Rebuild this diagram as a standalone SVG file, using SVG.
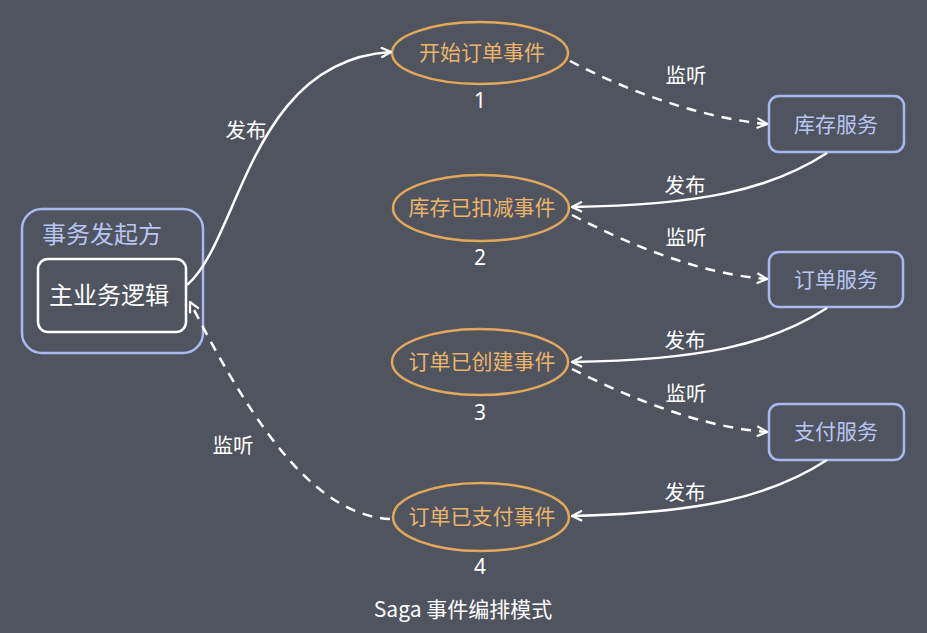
<svg xmlns="http://www.w3.org/2000/svg" width="927" height="633" viewBox="0 0 927 633">
<defs>
<style>
text{font-family:"Microsoft YaHei","Noto Sans CJK SC","Liberation Sans",sans-serif;}
.ev{fill:none;stroke:#e0a85a;stroke-width:2.5;}
.evt{fill:#eab46c;font-size:21px;text-anchor:middle;}
.num{fill:#ffffff;font-size:21px;text-anchor:middle;font-family:"Noto Sans","Liberation Sans",sans-serif;}
.svc{fill:none;stroke:#aab8ee;stroke-width:2.5;}
.svt{fill:#b9c5f2;font-size:21px;text-anchor:middle;}
.lbl{fill:#ffffff;font-size:20.5px;text-anchor:middle;}
.solid{fill:none;stroke:#ffffff;stroke-width:2.5;marker-end:url(#arr);}
.dash{fill:none;stroke:#ffffff;stroke-width:2.5;stroke-dasharray:10 8;marker-end:url(#arr);}
</style>
<marker id="arr" viewBox="0 0 12 12" refX="11" refY="6" markerWidth="12" markerHeight="12" markerUnits="userSpaceOnUse" orient="auto">
<path d="M1 1 L11 6 L1 11" fill="none" stroke="#ffffff" stroke-width="2.2"/>
</marker>
</defs>
<rect width="927" height="633" fill="#50545e"/>

<g id="initiator">
<rect x="22" y="209" width="181" height="144" rx="20" fill="none" stroke="#aab8ee" stroke-width="2.5"/>
<text x="102" y="243" fill="#b9c5f2" font-size="24" text-anchor="middle">事务发起方</text>
</g>
<g id="main-logic">
<rect x="38" y="259" width="148" height="73" rx="10" fill="none" stroke="#ffffff" stroke-width="2.5"/>
<text x="109" y="304" fill="#ffffff" font-size="24" text-anchor="middle">主业务逻辑</text>
</g>

<g id="event1">
<ellipse class="ev" cx="480" cy="53" rx="88" ry="31"/>
<text class="evt" x="482" y="60">开始订单事件</text>
<text class="num" x="480" y="108">1</text>
</g>
<g id="event2">
<ellipse class="ev" cx="481" cy="208" rx="88" ry="33"/>
<text class="evt" x="482" y="215">库存已扣减事件</text>
<text class="num" x="480" y="265">2</text>
</g>
<g id="event3">
<ellipse class="ev" cx="480" cy="362" rx="88" ry="33"/>
<text class="evt" x="482" y="369">订单已创建事件</text>
<text class="num" x="480" y="420">3</text>
</g>
<g id="event4">
<ellipse class="ev" cx="481" cy="517" rx="88" ry="34"/>
<text class="evt" x="482" y="524">订单已支付事件</text>
<text class="num" x="480" y="574">4</text>
</g>

<g id="inventory-service">
<rect class="svc" x="769" y="96" width="135" height="56" rx="10"/>
<text class="svt" x="836" y="132">库存服务</text>
</g>
<g id="order-service">
<rect class="svc" x="769" y="252" width="134" height="55" rx="10"/>
<text class="svt" x="836" y="287">订单服务</text>
</g>
<g id="payment-service">
<rect class="svc" x="769" y="404" width="135" height="56" rx="10"/>
<text class="svt" x="836" y="439">支付服务</text>
</g>

<g id="connectors">
<path class="solid" d="M187 285 C240 240 250 60 391 52"/>
<path class="dash" d="M570 61 C625 90 700 118 767 124"/>
<path class="solid" d="M827 153 C770 190 700 205 572 207"/>
<path class="dash" d="M572 215 C630 245 700 274 767 279"/>
<path class="solid" d="M827 308 C770 345 700 360 572 362"/>
<path class="dash" d="M572 369 C630 398 700 427 767 432"/>
<path class="solid" d="M827 460 C770 497 700 513 572 516"/>
<path class="dash" d="M390 519 C320 515 260 440 190 302"/>
<text class="lbl" x="246" y="138">发布</text>
<text class="lbl" x="686" y="83">监听</text>
<text class="lbl" x="685" y="193">发布</text>
<text class="lbl" x="686" y="245">监听</text>
<text class="lbl" x="685" y="348">发布</text>
<text class="lbl" x="686" y="401">监听</text>
<text class="lbl" x="685" y="500">发布</text>
<text class="lbl" x="233" y="453">监听</text>
</g>

<text x="463" y="617" fill="#ffffff" font-size="21" text-anchor="middle">Saga 事件编排模式</text>
</svg>
